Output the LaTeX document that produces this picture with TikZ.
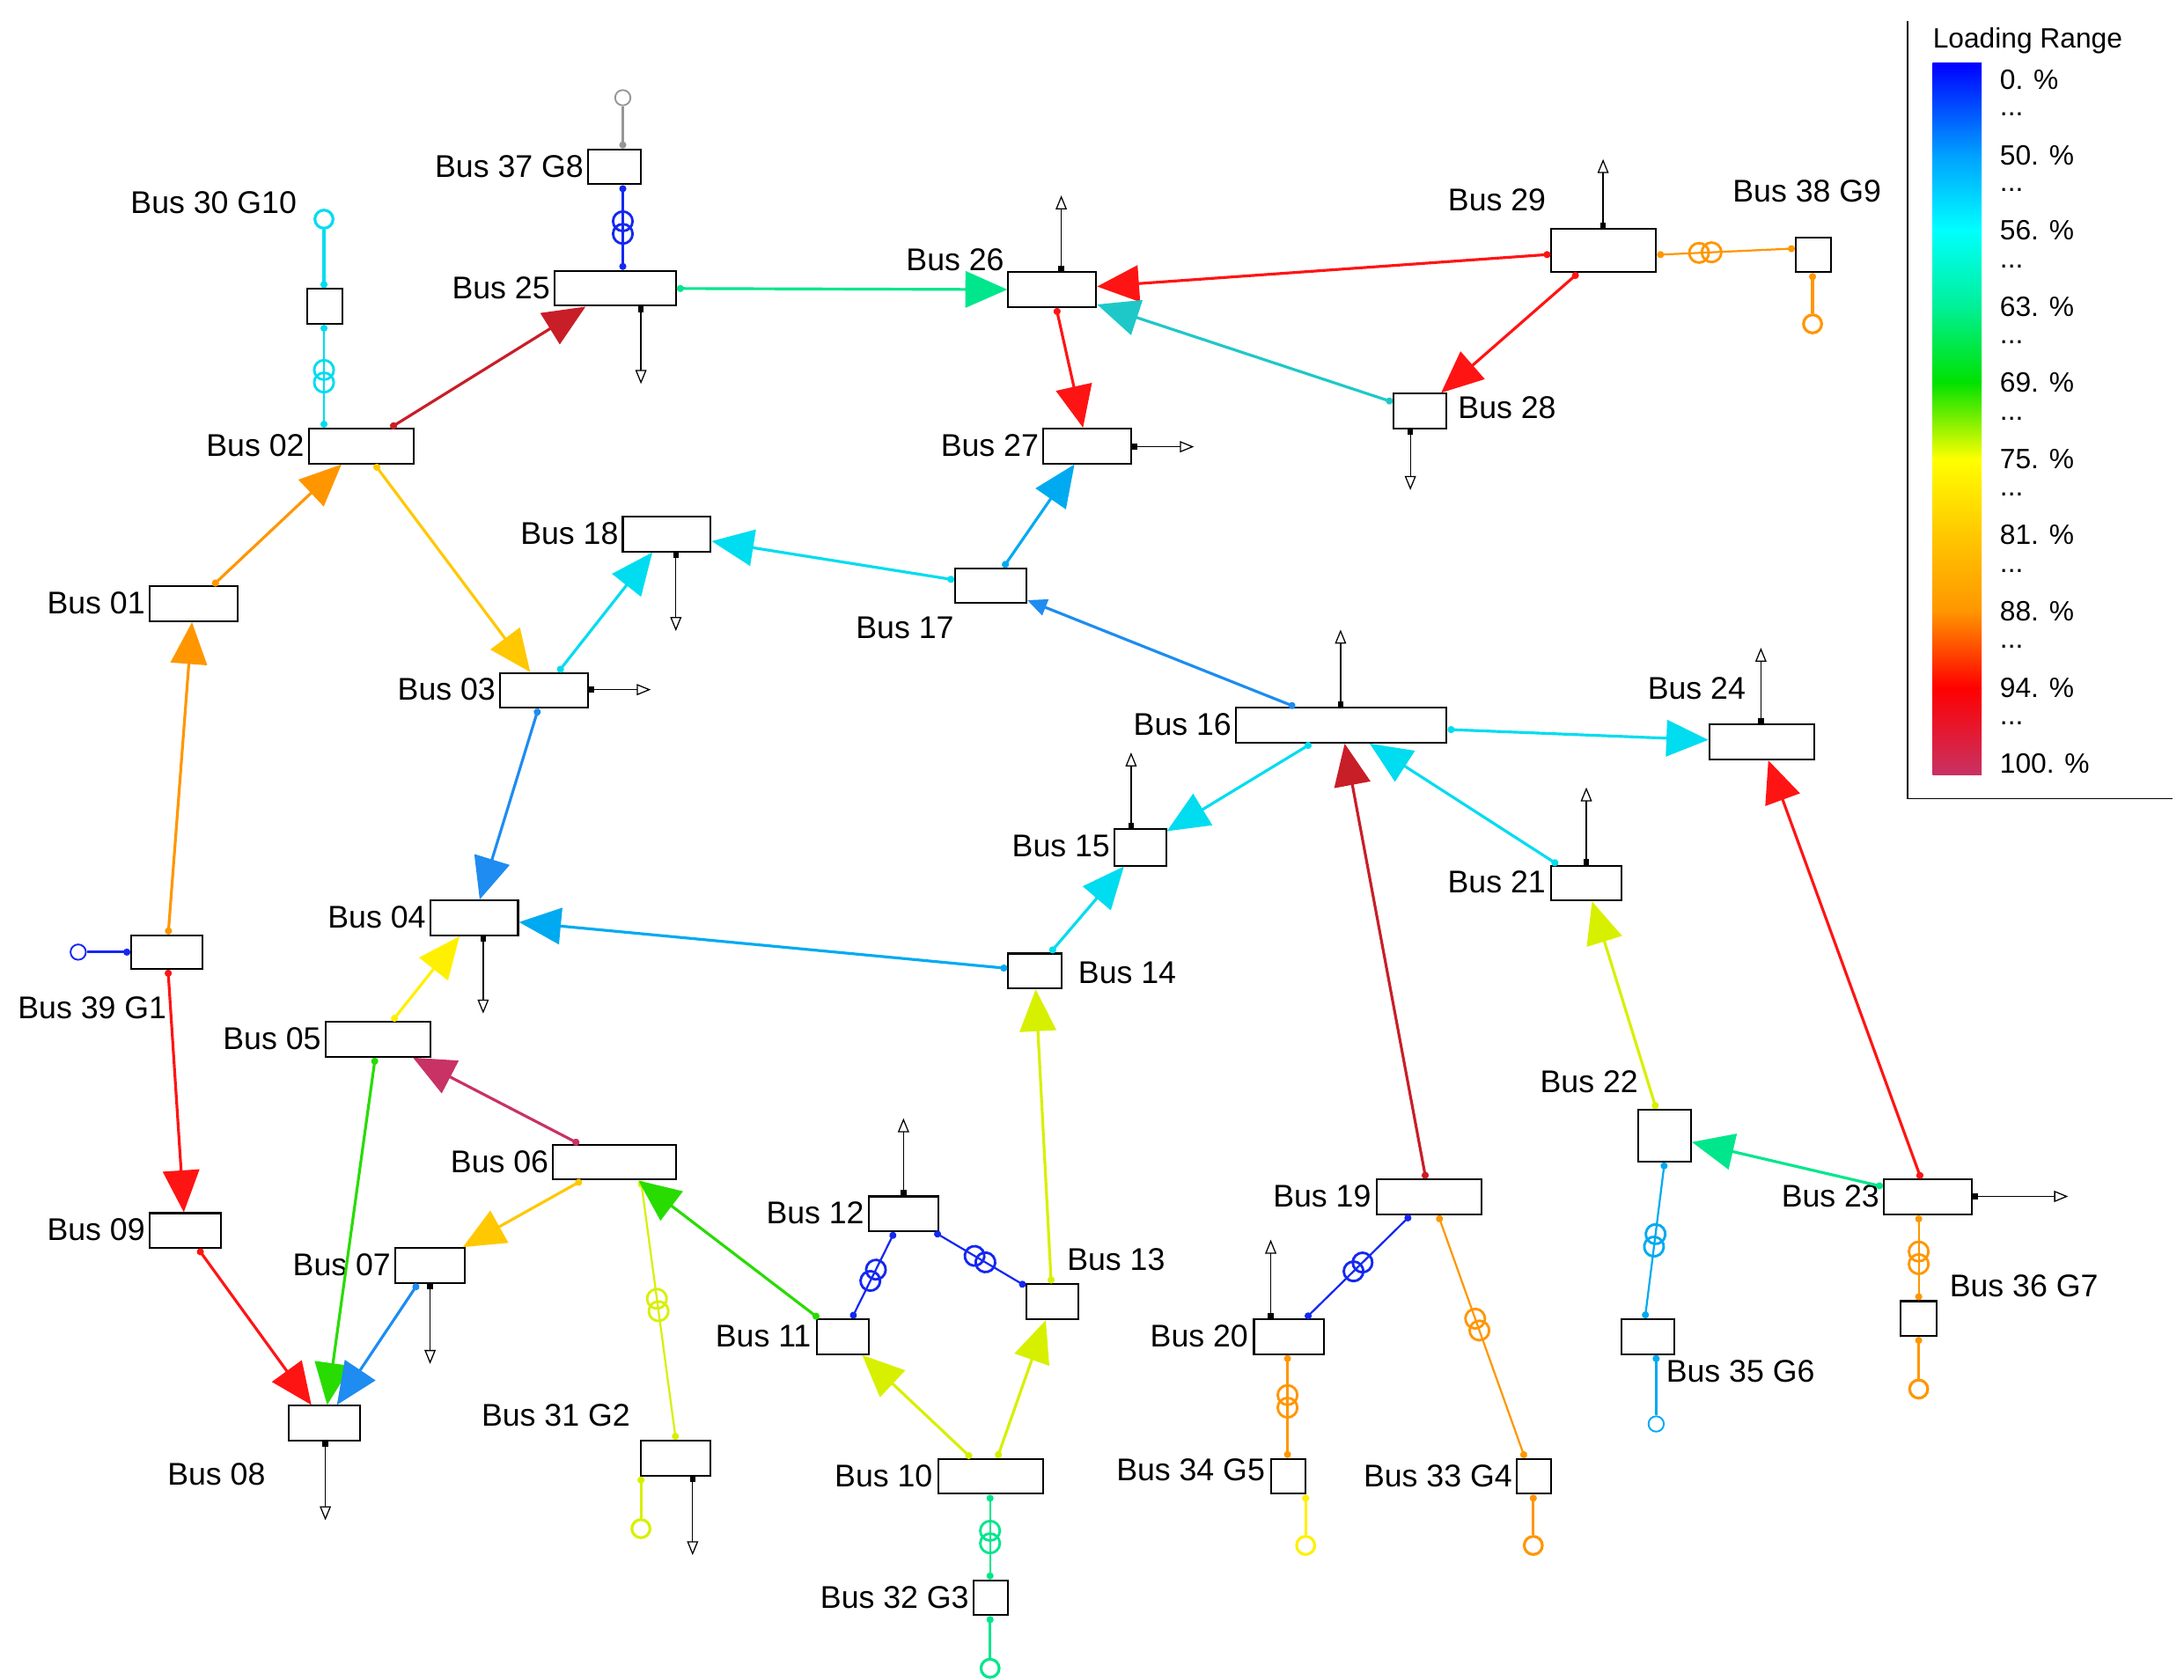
\documentclass[tikz,border=0pt]{standalone}
\usepackage{fontspec}
\setmainfont{Liberation Sans}
\usetikzlibrary{arrows.meta}
\definecolor{cor}{RGB}{255,150,0}
\definecolor{cre}{RGB}{255,20,20}
\definecolor{cdr}{RGB}{200,30,40}
\definecolor{ccr}{RGB}{200,50,100}
\definecolor{cgo}{RGB}{255,200,0}
\definecolor{cye}{RGB}{255,240,0}
\definecolor{cyg}{RGB}{215,240,0}
\definecolor{cgr}{RGB}{40,220,0}
\definecolor{csg}{RGB}{0,230,140}
\definecolor{cte}{RGB}{30,200,200}
\definecolor{ccy}{RGB}{0,220,240}
\definecolor{clb}{RGB}{0,170,240}
\definecolor{cbl}{RGB}{30,140,240}
\definecolor{cdb}{RGB}{20,40,240}
\definecolor{cgy}{RGB}{150,150,150}
\begin{document}
\begin{tikzpicture}[x=1pt,y=-1pt,
 bus/.style={draw,line width=1.3pt,fill=white,inner sep=0,minimum height=25pt},
 lab/.style={font=\fontsize{22.5}{24}\selectfont,inner sep=1pt},
 ln/.style={line width=2pt,{Circle[length=5pt]}-{Triangle[length=30pt,width=26pt]}},
 sln/.style={line width=2pt,{Circle[length=5pt]}-{Triangle[length=14pt,width=12pt]}},
 tl/.style={line width=1.4pt,{Circle[length=5pt]}-{Circle[length=5pt]}},
 gl/.style={line width=2pt,{Circle[length=5pt]}-},
 gen/.style={circle,line width=2pt,minimum size=13pt,inner sep=0,fill=white},
 load/.style={line width=0.8pt,{Square[length=4pt]}-{Triangle[open,length=10pt,width=8pt]}},
 pics/trafo/.style={code={\draw[#1,line width=1.8pt] (-4.5pt,0) circle (7pt) (4.5pt,0) circle (7pt);}},
 leg/.style={font=\fontsize{20}{22}\selectfont,anchor=west,inner sep=0}]
\useasboundingbox (0,0) rectangle (1564,1203);
% buses
\node[bus,minimum width=38pt] (b37) at (440,119.5) {};
\node[bus,minimum width=87pt] (b25) at (440.5,206.5) {};
\node[bus,minimum width=25pt] (b30) at (232.5,219.5) {};
\node[bus,minimum width=75pt] (b02) at (258.5,319.5) {};
\node[bus,minimum width=63pt] (b01) at (138.5,432.5) {};
\node[bus,minimum width=51pt,minimum height=24pt] (b39) at (119.5,682) {};
\node[bus,minimum width=51pt] (b09) at (132.5,881.5) {};
\node[bus,minimum width=51pt] (b08) at (232.5,1019.5) {};
\node[bus,minimum width=50pt] (b07) at (308,906.5) {};
\node[bus,minimum width=88pt] (b06) at (440,832.5) {};
\node[bus,minimum width=75pt] (b05) at (270.5,744.5) {};
\node[bus,minimum width=63pt] (b04) at (339.5,657.5) {};
\node[bus,minimum width=63pt] (b03) at (389.5,494.5) {};
\node[bus,minimum width=63pt] (b18) at (477.5,382.5) {};
\node[bus,minimum width=51pt] (b17) at (709.5,419.5) {};
\node[bus,minimum width=63pt] (b26) at (753.5,207.5) {};
\node[bus,minimum width=63pt] (b27) at (778.5,319.5) {};
\node[bus,minimum width=75pt,minimum height=31pt] (b29) at (1148.5,179.5) {};
\node[bus,minimum width=25pt] (b38) at (1298.5,182.5) {};
\node[bus,minimum width=38pt] (b28) at (1017,294.5) {};
\node[bus,minimum width=151pt] (b16) at (960.5,519.5) {};
\node[bus,minimum width=75pt] (b24) at (1261.5,531.5) {};
\node[bus,minimum width=37pt,minimum height=26pt] (b15) at (816.5,607) {};
\node[bus,minimum width=38pt] (b14) at (741,695.5) {};
\node[bus,minimum width=50pt] (b21) at (1136,632.5) {};
\node[bus,minimum width=38pt,minimum height=37pt] (b22) at (1192,813.5) {};
\node[bus,minimum width=63pt] (b23) at (1380.5,857.5) {};
\node[bus,minimum width=26pt] (b36) at (1374,944.5) {};
\node[bus,minimum width=38pt] (b35) at (1180,957.5) {};
\node[bus,minimum width=75pt] (b19) at (1023.5,857.5) {};
\node[bus,minimum width=50pt] (b20) at (923,957.5) {};
\node[bus,minimum width=25pt] (b34) at (922.5,1057.5) {};
\node[bus,minimum width=25pt] (b33) at (1098.5,1057.5) {};
\node[bus,minimum width=50pt] (b12) at (647,869.5) {};
\node[bus,minimum width=37pt] (b13) at (753.5,932.5) {};
\node[bus,minimum width=37pt] (b11) at (603.5,957.5) {};
\node[bus,minimum width=75pt] (b10) at (709.5,1057.5) {};
\node[bus,minimum width=25pt] (b32) at (709.5,1144.5) {};
\node[bus,minimum width=50pt] (b31) at (484,1044.5) {};
% labels
\node[lab,anchor=east] (t37) at (419,119) {Bus 37 G8};
\node[lab,anchor=east] (t25) at (395,206) {Bus 25};
\node[lab] (t30) at (153,145) {Bus 30 G10};
\node[lab,anchor=east] (t02) at (219,319) {Bus 02};
\node[lab,anchor=east] (t01) at (105,432) {Bus 01};
\node[lab] (t39) at (66,722) {Bus 39 G1};
\node[lab,anchor=east] (t09) at (105,881) {Bus 09};
\node[lab] (t08) at (155,1056) {Bus 08};
\node[lab,anchor=east] (t07) at (281,906) {Bus 07};
\node[lab,anchor=east] (t06) at (394,832) {Bus 06};
\node[lab,anchor=east] (t05) at (231,744) {Bus 05};
\node[lab,anchor=east] (t04) at (306,657) {Bus 04};
\node[lab,anchor=east] (t03) at (356,494) {Bus 03};
\node[lab,anchor=east] (t18) at (444,382) {Bus 18};
\node[lab] (t17) at (648,450) {Bus 17};
\node[lab] (t26) at (684,186) {Bus 26};
\node[lab,anchor=east] (t27) at (745,319) {Bus 27};
\node[lab] (t29) at (1072,143) {Bus 29};
\node[lab] (t38) at (1294,137) {Bus 38 G9};
\node[lab,anchor=west] (t28) at (1043,292) {Bus 28};
\node[lab,anchor=east] (t16) at (883,519) {Bus 16};
\node[lab] (t24) at (1215,493) {Bus 24};
\node[lab,anchor=east] (t15) at (796,606) {Bus 15};
\node[lab,anchor=west] (t14) at (771,697) {Bus 14};
\node[lab,anchor=east] (t21) at (1108,632) {Bus 21};
\node[lab] (t22) at (1138,775) {Bus 22};
\node[lab,anchor=east] (t23) at (1347,857) {Bus 23};
\node[lab,anchor=west] (t36) at (1395,921) {Bus 36 G7};
\node[lab,anchor=west] (t35) at (1192,982) {Bus 35 G6};
\node[lab,anchor=east] (t19) at (983,857) {Bus 19};
\node[lab,anchor=east] (t20) at (895,957) {Bus 20};
\node[lab,anchor=east] (t34) at (907,1053) {Bus 34 G5};
\node[lab,anchor=east] (t33) at (1084,1057) {Bus 33 G4};
\node[lab,anchor=east] (t12) at (620,869) {Bus 12};
\node[lab,anchor=west] (t13) at (763,902) {Bus 13};
\node[lab,anchor=east] (t11) at (582,957) {Bus 11};
\node[lab,anchor=east] (t10) at (669,1057) {Bus 10};
\node[lab,anchor=east] (t32) at (695,1144) {Bus 32 G3};
\node[lab] (t31) at (398,1014) {Bus 31 G2};
% generators
\node[gen,draw=cgy,line width=1.2pt,minimum size=11pt] (g37) at (446,70) {};
\node[gen,draw=ccy] (g30) at (232,157) {};
\node[gen,draw=cdb,line width=1.2pt,minimum size=11pt] (g39) at (56,682) {};
\node[gen,draw=cor] (g38) at (1298,232) {};
\node[gen,draw=cor] (g36) at (1374,995) {};
\node[gen,draw=clb,line width=1.2pt,minimum size=11pt] (g35) at (1186,1020) {};
\node[gen,draw=cye] (g34) at (935,1107) {};
\node[gen,draw=cor] (g33) at (1098,1107) {};
\node[gen,draw=csg] (g32) at (709,1195) {};
\node[gen,draw=cyg] (g31) at (459,1095) {};
\draw[gl,cgy] (b37.north -| g37) -- (g37);
\draw[gl,ccy] (b30.north -| g30) -- (g30);
\draw[gl,cdb] (b39) -- (g39);
\draw[gl,cor] (b38.south -| g38) -- (g38);
\draw[gl,cor] (b36.south -| g36) -- (g36);
\draw[gl,clb] (b35.south -| g35) -- (g35);
\draw[gl,cye] (b34.south -| g34) -- (g34);
\draw[gl,cor] (b33.south -| g33) -- (g33);
\draw[gl,csg] (b32.south -| g32) -- (g32);
\draw[gl,cyg] (b31.south -| g31) -- (g31);
% transformer ports
\coordinate (p31) at (459,0); \coordinate (q31) at (484,0);
\coordinate (p34) at (922,0);
\coordinate (p19a) at (1010,0); \coordinate (p20) at (935,0);
\coordinate (p19b) at (1030,0); \coordinate (p33) at (1092,0);
\coordinate (p22) at (1192,0); \coordinate (p35) at (1178,0);
\coordinate (p38) at (0,178);
% transformer branches
\draw[tl,cdb] (b25.north -| g37) -- pic[pos=.5,sloped]{trafo=cdb} (b37.south -| g37);
\draw[tl,ccy] (b02.north -| g30) -- pic[pos=.5,sloped]{trafo=ccy} (b30.south -| g30);
\draw[tl,cor] (b29.east |- b38) -- pic[pos=.35,sloped]{trafo=cor} (b38.west |- p38);
\draw[tl,cdb] (b12) -- pic[pos=.5,sloped]{trafo=cdb} (b11);
\draw[tl,cdb] (b12) -- pic[pos=.5,sloped]{trafo=cdb} (b13);
\draw[tl,cdb] (b19.south -| p19a) -- pic[pos=.5,sloped]{trafo=cdb} (b20.north -| p20);
\draw[tl,cor] (b19.south -| p19b) -- pic[pos=.45,sloped]{trafo=cor} (b33.north -| p33);
\draw[tl,cor] (b20.south -| p34) -- pic[pos=.45,sloped]{trafo=cor} (b34.north -| p34);
\draw[tl,clb] (b22.south -| p22) -- pic[pos=.5,sloped]{trafo=clb} (b35.north -| p35);
\draw[tl,cor] (b23.south -| g36) -- pic[pos=.5,sloped]{trafo=cor} (b36.north -| g36);
\draw[tl,csg] (b10.south -| g32) -- pic[pos=.5,sloped]{trafo=csg} (b32.north -| g32);
\draw[tl,cyg] (b06.south -| p31) -- pic[pos=.48,sloped]{trafo=cyg} (b31.north -| q31);
% lines
\draw[ln,cdr] (b02) -- (b25);
\draw[ln,csg] (b25) -- (b26);
\draw[ln,cre] (b29) -- (b26);
\draw[ln,cte] (b28) -- (b26);
\draw[ln,cre] (b26) -- (b27);
\draw[ln,cre] (b29) -- (b28);
\draw[ln,clb] (b17) -- (b27);
\draw[ln,ccy] (b17) -- (b18);
\draw[sln,cbl] (b16) -- (b17);
\draw[ln,cor] (b01) -- (b02);
\draw[ln,cgo] (b02) -- (b03);
\draw[ln,ccy] (b03) -- (b18);
\draw[ln,cbl] (b03) -- (b04);
\draw[ln,cor] (b39) -- (b01);
\draw[ln,cre] (b39) -- (b09);
\draw[ln,cre] (b09) -- (b08);
\draw[ln,cye] (b05) -- (b04);
\draw[ln,cgr] (b05) -- (b08);
\draw[ln,cbl] (b07) -- (b08);
\draw[ln,ccr] (b06) -- (b05);
\draw[ln,cgo] (b06) -- (b07);
\draw[ln,cgr] (b11) -- (b06);
\draw[ln,clb] (b14) -- (b04);
\draw[ln,ccy] (b14) -- (b15);
\draw[ln,ccy] (b16) -- (b15);
\draw[ln,ccy] (b16) -- (b24);
\draw[ln,ccy] (b21) -- (b16);
\draw[ln,cdr] (b19) -- (b16);
\draw[ln,cre] (b23) -- (b24);
\draw[ln,cyg] (b22) -- (b21);
\draw[ln,csg] (b23) -- (b22);
\draw[ln,cyg] (b13) -- (b14);
\draw[ln,cyg] (b10) -- (b13);
\draw[ln,cyg] (b10) -- (b11);
% loads
\coordinate (l25) at (459,275); \draw[load] (b25.south -| l25) -- (l25);
\coordinate (l26) at (760,140); \draw[load] (b26.north -| l26) -- (l26);
\coordinate (l27) at (855,320); \draw[load] (b27.east |- l27) -- (l27);
\coordinate (l29) at (1148,114); \draw[load] (b29.north -| l29) -- (l29);
\coordinate (l28) at (1010,351); \draw[load] (b28.south -| l28) -- (l28);
\coordinate (l18) at (484,452); \draw[load] (b18.south -| l18) -- (l18);
\coordinate (l03) at (466,494); \draw[load] (b03.east |- l03) -- (l03);
\coordinate (l16) at (960,451); \draw[load] (b16.north -| l16) -- (l16);
\coordinate (l24) at (1261,464); \draw[load] (b24.north -| l24) -- (l24);
\coordinate (l15) at (810,539); \draw[load] (b15.north -| l15) -- (l15);
\coordinate (l21) at (1136,564); \draw[load] (b21.north -| l21) -- (l21);
\coordinate (l04) at (346,726); \draw[load] (b04.south -| l04) -- (l04);
\coordinate (l08) at (233,1089); \draw[load] (b08.south -| l08) -- (l08);
\coordinate (l07) at (308,977); \draw[load] (b07.south -| l07) -- (l07);
\coordinate (l31) at (496,1114); \draw[load] (b31.south -| l31) -- (l31);
\coordinate (l12) at (647,801); \draw[load] (b12.north -| l12) -- (l12);
\coordinate (l20) at (910,888); \draw[load] (b20.north -| l20) -- (l20);
\coordinate (l23) at (1481,857); \draw[load] (b23.east |- l23) -- (l23);
% legend
\draw[line width=0.8pt] (1366,15) -- (1366,572) -- (1556,572);
\shade[top color=blue,bottom color={rgb,255:red,0;green,160;blue,255}] (1384,45) rectangle (1419,111);
\shade[top color={rgb,255:red,0;green,160;blue,255},bottom color=cyan] (1384,110.5) rectangle (1419,165);
\shade[top color=cyan,bottom color={rgb,255:red,0;green,240;blue,150}] (1384,164.5) rectangle (1419,220);
\shade[top color={rgb,255:red,0;green,240;blue,150},bottom color={rgb,255:red,0;green,225;blue,0}] (1384,219.5) rectangle (1419,274);
\shade[top color={rgb,255:red,0;green,225;blue,0},bottom color=yellow] (1384,273.5) rectangle (1419,329);
\shade[top color=yellow,bottom color={rgb,255:red,255;green,200;blue,0}] (1384,328.5) rectangle (1419,383);
\shade[top color={rgb,255:red,255;green,200;blue,0},bottom color={rgb,255:red,255;green,150;blue,0}] (1384,382.5) rectangle (1419,438);
\shade[top color={rgb,255:red,255;green,150;blue,0},bottom color=red] (1384,437.5) rectangle (1419,493);
\shade[top color=red,bottom color=ccr] (1384,492.5) rectangle (1419,555);
\node[leg] (lt) at (1384,29) {Loading Range};
\node[leg] (v0) at (1432,57) {0. \%};
\node[leg] (v50) at (1432,111) {50. \%};
\node[leg] (v56) at (1432,165) {56. \%};
\node[leg] (v63) at (1432,220) {63. \%};
\node[leg] (v69) at (1432,274) {69. \%};
\node[leg] (v75) at (1432,329) {75. \%};
\node[leg] (v81) at (1432,383) {81. \%};
\node[leg] (v88) at (1432,438) {88. \%};
\node[leg] (v94) at (1432,493) {94. \%};
\node[leg] (v100) at (1432,547) {100. \%};
\foreach \y [count=\i] in {82,136,191,245,300,354,409,463,518}
  \node[leg] (d\i) at (1432,\y) {...};
\end{tikzpicture}
\end{document}
